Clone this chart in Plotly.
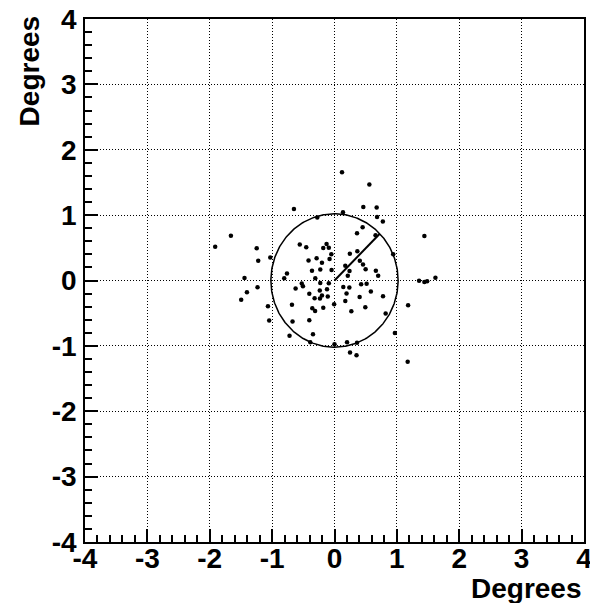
import numpy as np
import plotly.graph_objects as go

# Event positions (degrees)
x_vals = [-0.650, -0.276, -1.661, -1.913, -1.247, -1.223, -1.030, -0.557, -0.453, -0.180,
          -0.127, -0.091, -0.051, -0.416, -0.287, -0.201, -0.079, -0.361, -0.228, -0.047,
          -0.762, -0.806, -0.308, -1.443, -1.234, -0.624, -0.525, -0.506, -0.228, -0.091,
          -0.120, 0.120, 0.559, 0.136, 0.462, 0.676, 0.682, 0.775, 0.361, 0.451,
          0.658, 0.941, 1.441, 0.246, 0.366, 0.406, 0.457, 0.499, 0.173, 0.241,
          0.213, 0.663, 0.700, 0.141, 0.238, 0.427, 0.515, 1.356, 1.441, 1.485,
          1.618, -1.404, -1.496, -0.404, -0.236, -0.201, -0.108, -0.319, -0.233, -1.067,
          -0.682, -0.356, -0.311, -0.180, -0.006, -1.047, -0.673, -0.404, -0.345, -0.721,
          -0.388, 0.000, 0.193, 0.173, 0.403, 0.583, 0.778, 0.494, 0.270, 1.180,
          0.820, 0.968, 0.201, 0.361, 0.249, 0.353, 1.173]
y_vals = [1.095, 0.962, 0.686, 0.518, 0.493, 0.303, 0.352, 0.551, 0.508, 0.498,
          0.559, 0.502, 0.401, 0.306, 0.342, 0.271, 0.329, 0.149, 0.168, 0.161,
          0.107, 0.034, 0.034, 0.038, -0.103, -0.123, -0.046, -0.089, -0.038, -0.041,
          -0.135, 1.657, 1.467, 1.044, 1.126, 1.115, 0.972, 0.904, 0.723, 0.816,
          0.692, 0.403, 0.681, 0.409, 0.449, 0.302, 0.245, 0.173, 0.225, 0.145,
          0.074, 0.150, 0.072, -0.100, -0.107, -0.057, -0.051, -0.003, -0.023, -0.012,
          0.043, -0.181, -0.294, -0.202, -0.153, -0.230, -0.245, -0.273, -0.276, -0.395,
          -0.371, -0.426, -0.467, -0.417, -0.363, -0.613, -0.628, -0.608, -0.824, -0.845,
          -0.945, -0.977, -0.199, -0.314, -0.253, -0.168, -0.242, -0.409, -0.470, -0.380,
          -0.505, -0.804, -0.945, -0.953, -1.100, -1.144, -1.243]

circle_center = (0.0, 0.0)
circle_radius = 1.02
direction_deg = 44.6

tick_vals = [-4, -3, -2, -1, 0, 1, 2, 3, 4]
tick_text = ["-4", "-3", "-2", "-1", "0", "1", "2", "3", "4"]
axis_title = "Degrees"

theta = np.linspace(0, 2 * np.pi, 361)
cx = circle_center[0] + circle_radius * np.cos(theta)
cy = circle_center[1] + circle_radius * np.sin(theta)
ang = np.deg2rad(direction_deg)
lx = [circle_center[0], circle_center[0] + circle_radius * np.cos(ang)]
ly = [circle_center[1], circle_center[1] + circle_radius * np.sin(ang)]

fig = go.Figure()
fig.add_trace(go.Scatter(x=cx, y=cy, mode="lines",
                         line=dict(color="black", width=1.5), hoverinfo="skip"))
fig.add_trace(go.Scatter(x=lx, y=ly, mode="lines",
                         line=dict(color="black", width=2), hoverinfo="skip"))
fig.add_trace(go.Scatter(x=x_vals, y=y_vals, mode="markers",
                         marker=dict(color="black", size=4.5)))

font_family = "Liberation Sans, Arial, Helvetica, sans-serif"
axis_common = dict(
    range=[-4, 4], tickmode="array", tickvals=tick_vals, ticktext=tick_text,
    showgrid=True, gridcolor="black", gridwidth=1, griddash="1px,2px",
    zeroline=False, showline=True, linecolor="black", linewidth=1.5, mirror=True,
    ticks="inside", ticklen=13, tickwidth=1.5, tickcolor="black",
    minor=dict(dtick=0.2, ticks="inside", ticklen=7, tickwidth=1.5,
               tickcolor="black", showgrid=False),
    tickfont=dict(family=font_family, size=28, color="black", weight="bold"),
    automargin=False, ticklabeloverflow="allow",
)

fig.update_layout(
    width=590, height=603,
    margin=dict(l=85, r=6, t=19, b=61),
    paper_bgcolor="white", plot_bgcolor="white",
    showlegend=False,
    xaxis=dict(**axis_common, ticklabelstandoff=-9),
    yaxis=dict(**axis_common, ticklabelstandoff=1),
    annotations=[
        dict(text=axis_title, xref="paper", yref="paper", x=1.0, y=-0.089,
             xanchor="right", yanchor="middle", showarrow=False,
             font=dict(family=font_family, size=28, color="black", weight="bold")),
        dict(text=axis_title, xref="paper", yref="paper", x=-0.112, y=1.01,
             xanchor="center", yanchor="top", textangle=-90, showarrow=False,
             font=dict(family=font_family, size=28, color="black", weight="bold")),
    ],
)

fig.write_html("out.html")
